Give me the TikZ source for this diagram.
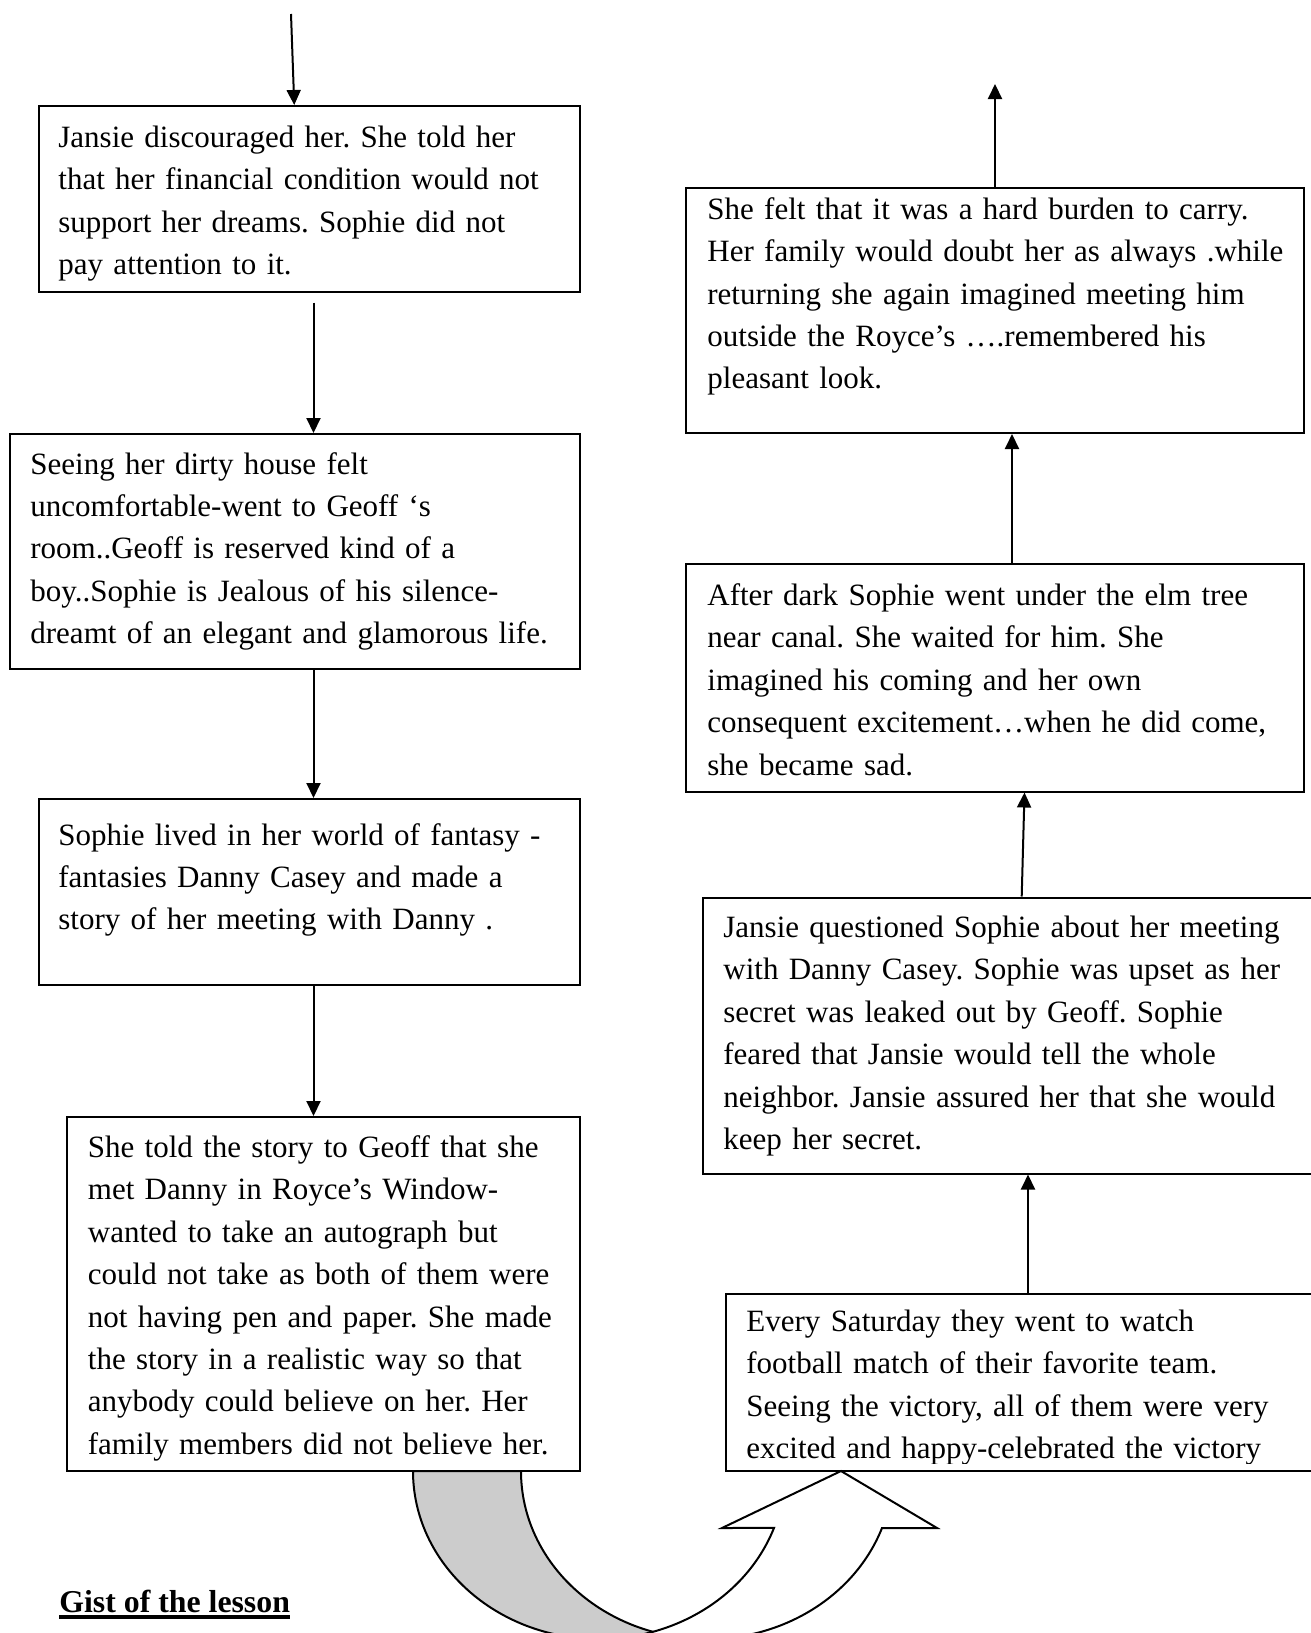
\documentclass[tikz,border=0pt]{standalone}
\usepackage{fontspec}
\setmainfont{Liberation Serif}
\usepackage{tikz}
\usetikzlibrary{arrows.meta,positioning,fit,calc}
\frenchspacing
\tikzset{
  storybox/.style={draw=black, line width=1pt, inner sep=0pt},
  storytext/.style={anchor=base west, align=left, text width=330pt, inner sep=0pt, font=\fontsize{15.5}{21.2}\selectfont},
  arrow/.style={-{Triangle[length=7.5pt,width=7pt]}, line width=1pt, draw=black},
  uturn/.style={line width=1pt, draw=black, line join=miter}
}

\begin{document}
\begin{tikzpicture}[x=0.5pt, y=-0.5pt]
  \useasboundingbox (0,0) rectangle (1311,1633);

  % left column, read downwards
  \node[storybox, fit={(38.5,106) (580,291.5)}] (discouraged) {};
  \node[storytext] (discouragedtext) at ($(discouraged.north west)+(20.5,42.5)$) {Jansie discouraged her. She told her\\that her financial condition would not\\support her dreams. Sophie did not\\pay attention to it.};

  \node[storybox, fit={(9.5,434) (580,668.5)}] (dirtyhouse) {};
  \node[storytext] (dirtyhousetext) at ($(dirtyhouse.north west)+(21.5,41)$) {Seeing her dirty house felt\\uncomfortable-went to Geoff ‘s\\room..Geoff is reserved kind of a\\boy..Sophie is Jealous of his silence-\\dreamt of an elegant and glamorous life.};

  \node[storybox, fit={(38.5,799) (580,985)}] (fantasy) {};
  \node[storytext] (fantasytext) at ($(fantasy.north west)+(20.5,47)$) {Sophie lived in her world of fantasy -\\fantasies Danny Casey and made a\\story of her meeting with Danny .};

  \node[storybox, fit={(66.5,1117) (580,1471)}] (storytold) {};
  \node[storytext] (storytoldtext) at ($(storytold.north west)+(22,41.5)$) {She told the story to Geoff that she\\met Danny in Royce’s Window-\\wanted to take an autograph but\\could not take as both of them were\\not having pen and paper. She made\\the story in a realistic way so that\\anybody could believe on her. Her\\family members did not believe her.};

  % right column, read upwards
  \node[storybox, fit={(686,187.5) (1304,433)}] (burden) {};
  \node[storytext] (burdentext) at ($(burden.north west)+(22,32.7)$) {She felt that it was a hard burden to carry.\\Her family would doubt her as always .while\\returning she again imagined meeting him\\outside the Royce’s ….remembered his\\pleasant look.};

  \node[storybox, fit={(686,564) (1304,791.5)}] (elmtree) {};
  \node[storytext] (elmtreetext) at ($(elmtree.north west)+(22,42.5)$) {After dark Sophie went under the elm tree\\near canal. She waited for him. She\\imagined his coming and her own\\consequent excitement…when he did come,\\she became sad.};

  \node[storybox, fit={(703,897.5) (1330,1173.5)}] (questioned) {};
  \node[storytext] (questionedtext) at ($(questioned.north west)+(21,41)$) {Jansie questioned Sophie about her meeting\\with Danny Casey. Sophie was upset as her\\secret was leaked out by Geoff. Sophie\\feared that Jansie would tell the whole\\neighbor. Jansie assured her that she would\\keep her secret.};

  \node[storybox, fit={(726,1294) (1330,1471)}] (saturday) {};
  \begin{scope}
    \clip (saturday.north west) rectangle ($(saturday.south east)+(0,-9)$);
    \node[storytext] (saturdaytext) at ($(saturday.north west)+(21,38.5)$) {Every Saturday they went to watch\\football match of their favorite team.\\Seeing the victory, all of them were very\\excited and happy-celebrated the victory};
  \end{scope}

  \node[anchor=base west, inner sep=0pt, font=\fontsize{15.9}{21.2}\selectfont\bfseries] (gist) at (59,1612) {Gist of the lesson};
  \draw[line width=1.7pt] ($(gist.base west)+(0,5)$) -- ($(gist.base east)+(0,5)$);

  % connectors
  \coordinate (start) at (291,14);
  \coordinate (finish) at (995,84);
  \coordinate (laxis) at (313.5,0);
  \coordinate (raxis) at (1012,0);
  \coordinate (raxislow) at (1028,0);

  \draw[arrow] (start) -- ($(discouraged.north)+(-15,0)$);
  \draw[arrow, shorten <=5pt] (discouraged.south -| laxis) -- (dirtyhouse.north -| laxis);
  \draw[arrow] (dirtyhouse.south -| laxis) -- (fantasy.north -| laxis);
  \draw[arrow] (fantasy.south -| laxis) -- (storytold.north -| laxis);

  \draw[arrow] (saturday.north -| raxislow) -- (questioned.south -| raxislow);
  \draw[arrow] ($(questioned.north west)+(319.7,0)$) -- ($(elmtree.south west)+(339.5,0)$);
  \draw[arrow] (elmtree.north -| raxis) -- (burden.south -| raxis);
  \draw[arrow] (burden.north) -- (finish);

  % U-turn block arrow from the left column over to the right one
  \begin{scope}
    \clip (0,0) rectangle (1311,1633);
    \filldraw[uturn, fill=gray!40] (413,1471) arc[start angle=180, end angle=90, x radius=186, y radius=168]
      -- (707,1639) arc[start angle=90, end angle=180, x radius=186, y radius=168] -- cycle;
    \filldraw[uturn, fill=white] (599,1639) arc[start angle=90, end angle=19.8, x radius=186, y radius=168]
      -- (722,1528) -- (841,1471) -- (937,1528) -- (882,1528)
      arc[start angle=19.8, end angle=90, x radius=186, y radius=168] -- cycle;
  \end{scope}
\end{tikzpicture}
\end{document}
